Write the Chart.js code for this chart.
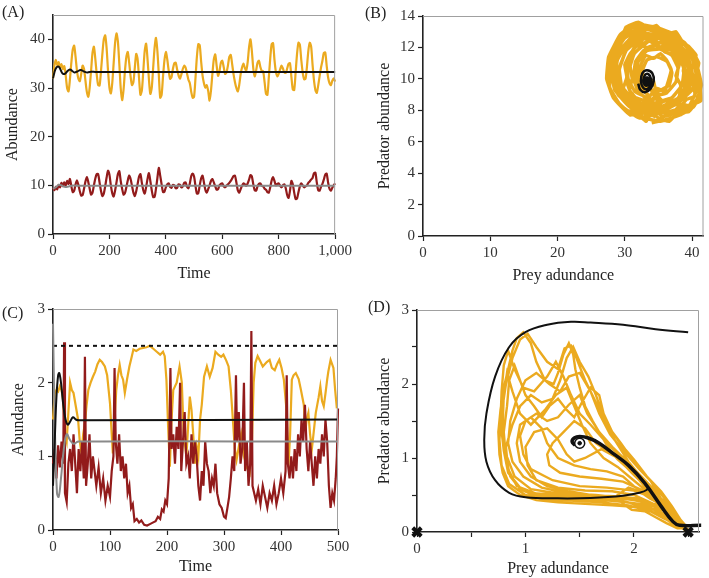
<!DOCTYPE html>
<html><head><meta charset="utf-8">
<script src="https://cdn.jsdelivr.net/npm/chart.js@4.4.1/dist/chart.umd.min.js"></script>
<style>
html,body{margin:0;padding:0;background:#fff;}
#wrap{position:relative;width:709px;height:578px;overflow:hidden;font-family:"Liberation Serif",serif;}
.pnl{position:absolute;}
.lab{position:absolute;font:16px "Liberation Serif",serif;color:#222;line-height:16px;}
</style></head><body>
<div id="wrap">
<canvas id="cA" class="pnl" width="355" height="290" style="left:0;top:0"></canvas>
<canvas id="cB" class="pnl" width="349" height="290" style="left:360px;top:0"></canvas>
<canvas id="cC" class="pnl" width="355" height="288" style="left:0;top:290px"></canvas>
<canvas id="cD" class="pnl" width="349" height="288" style="left:360px;top:290px"></canvas>
<div class="lab" style="left:2px;top:4px">(A)</div>
<div class="lab" style="left:365px;top:5px">(B)</div>
<div class="lab" style="left:2px;top:305px">(C)</div>
<div class="lab" style="left:368px;top:299px">(D)</div>
</div>
<script>
// ---------- DATA ----------
// Panel A : time grid (step 5)
const aTime=Array.from({length:201},(_,i)=>i*5);
// Panel A : stochastic prey (yellow)
const aPrey=[32.0,34.6,35.8,34.7,35.3,34.2,34.9,33.9,34.5,32.6,30.0,29.3,31.8,35.2,37.9,38.7,36.4,33.5,31.9,31.4,32.9,34.6,33.9,31.5,29.2,28.2,30.1,33.6,37.2,38.5,36.0,32.8,30.6,30.5,33.4,37.0,40.0,40.8,38.2,33.6,30.1,28.9,31.0,35.1,39.2,41.2,39.6,35.0,30.0,27.5,29.6,33.5,36.4,37.4,35.2,32.4,30.6,31.2,34.2,37.0,35.9,32.0,28.6,29.5,33.4,37.6,39.1,36.0,31.8,28.8,30.0,34.1,38.2,40.3,37.6,32.8,28.0,28.6,32.4,35.7,37.4,35.9,33.6,31.9,32.2,33.9,35.1,35.2,33.8,32.6,31.9,32.8,33.9,34.6,34.2,33.0,31.7,31.0,29.2,28.0,28.2,32.0,36.4,39.0,38.8,35.5,32.6,31.0,30.1,30.6,29.4,27.4,29.5,32.9,35.9,36.9,34.6,32.5,33.4,35.2,35.6,34.3,32.9,33.2,34.6,36.4,36.8,34.9,32.8,31.2,30.0,29.3,30.6,32.8,34.2,35.0,34.1,33.6,35.3,38.4,40.0,37.5,34.0,32.4,33.6,35.2,35.6,34.3,33.5,33.4,31.2,28.8,28.6,32.2,36.1,39.0,39.2,35.8,33.3,32.4,32.9,33.8,34.6,34.0,33.2,33.1,34.0,35.0,35.1,32.3,29.7,29.6,33.2,37.0,39.3,38.9,35.8,33.2,31.8,31.9,34.3,37.6,39.3,38.5,34.8,31.6,29.6,29.0,30.5,32.4,34.2,35.6,37.2,37.3,34.6,32.2,31.0,30.6,31.5,32.0,31.3];
// Panel A : stochastic predator (dark red)
const aPred=[9.5,9.0,9.7,9.2,10.1,9.6,10.5,9.8,10.6,10.0,10.9,10.3,11.3,9.8,8.6,8.9,10.2,11.0,10.1,8.8,7.9,8.0,9.3,10.8,11.7,10.7,9.3,8.1,8.5,10.0,11.4,12.3,12.3,10.6,8.9,7.8,8.3,9.8,11.6,13.0,12.2,10.0,8.4,7.7,8.9,10.6,12.3,12.9,10.9,9.3,8.1,8.4,9.6,11.0,12.0,11.3,9.9,8.5,7.8,8.8,10.3,11.8,12.3,10.5,9.0,8.3,9.6,11.3,12.5,10.9,9.0,7.6,7.6,9.3,11.5,13.6,12.0,10.2,8.6,8.7,9.6,10.2,10.4,9.7,9.5,10.1,10.0,9.4,9.5,10.2,10.1,9.6,9.8,10.5,10.6,9.7,9.4,10.4,11.9,12.4,11.8,9.9,8.3,8.4,10.0,11.4,12.0,10.6,9.1,8.5,9.2,10.0,10.9,11.3,10.6,9.8,9.1,9.2,10.0,10.3,10.4,9.8,9.6,9.9,10.2,10.5,10.9,11.4,11.9,12.0,10.6,9.0,8.5,9.2,9.9,10.4,10.2,9.9,10.4,11.2,12.1,11.8,10.2,9.0,8.9,9.8,10.3,10.4,9.9,9.8,9.3,9.1,8.6,8.5,9.6,11.0,11.7,10.9,10.0,10.3,10.4,9.9,9.6,10.0,10.2,9.4,8.0,7.4,8.9,10.9,10.2,8.5,7.2,7.3,8.6,9.8,10.4,10.0,9.6,9.8,10.0,10.5,10.8,11.2,11.5,12.5,12.6,10.6,9.0,8.9,9.7,10.3,11.2,12.2,12.4,10.6,9.3,8.9,9.5,10.0,10.4];
// Panel A : deterministic prey (black) and predator (grey)
const aDetPreyT=[0,5,10,16,22,28,34,42,50,60,68,76,86,98,110,122,135,150,1000];
const aDetPreyV=[32,33.2,34,34.4,34.3,33.6,33,32.9,33.4,33.8,33.5,33.2,33.4,33.7,33.4,33.2,33.35,33.3,33.3];
const aDetPredT=[0,10,20,30,40,55,70,90,1000];
const aDetPredV=[9.3,9.6,10.1,10,9.7,9.75,9.95,9.9,9.9];

// Panel B : phase plane (prey, predator) stochastic
const bPrey=[34,37,39.8,41.2,41,39.8,37.5,34.5,31.5,29.3,27.6,27.3,28.3,30.8, 34.5,37.2,39.2,39.9,39.2,37.2,34.8,32.2,30.2,29.2,29.6,31.3,33, 34.5,36.2,37.6,37.9,37,35.2,33.3,32,31.6,32.3,33.4, 35.5,38.5,40.6,41.4,40.5,38.9,36.3,33.2,30.6,28.7,27.5,27.8,29.4,32.2, 34.8,37.8,39.6,39.4,38.2,35.7,32.8,30.6,28.9,28.6,29.9,32.4, 35.8,38.5,40.5,40.8,39.6,37.6,35,32.4,30,28.5,28.2,29,31,33.5, 36.5,39.5,41.3,41.1,40.1,38.2,35.2,33,31.4,30.4,30.3,31.2,33.4, 35,36.6,37,36.3,34.8,33.3,32.6,33,34, 35.6,38.3,39.8,39.6,38,35.5,32.5,30.3,29,28,28.5,30.5,33, 35.3,38.2,40.2,41.1,40.7,39.5,38,36,33.8,31.6,29.7,28.6,28.8,29.8,31.6,33.8, 36.2,38.7,39.3,38.6,37,34.5,32.8,31.6,31.3,32,33.6, 35.8,38,40,40.6,40,38.5,36.5,34.2,32,30.2,29.3,28.4,27.9,28.6,30.4,32.6,
 33.5,35.2,36.8,38.4,39.6,40.6,40.9,40.2,40.6,39.4,38.1,36.9,35.3,33.9,32.3,30.9,29.6,28.8,28.2,28.7,29.3,30.6,32.0,
 34.6,36.0,37.4,38.6,39.1,38.7,38.9,37.8,36.6,35.1,33.7,32.4,31.4,30.8,31.1,30.7,31.6,33.0,
 35.0,36.6,38.0,39.5,40.8,41.3,40.6,41.0,40.0,38.8,37.6,36.0,34.7,33.0,31.6,30.4,29.2,28.4,27.9,27.4,28.0,29.0,30.3,31.8,33.2,
 34.8,35.9,36.5,36.9,36.2,35.3,34.3,33.1,32.4,32.1,32.6,33.6,
 36.0,37.8,39.2,40.4,40.2,39.8,39.2,37.8,36.4,35.0,33.6,32.0,30.5,29.8,29.1,29.4,30.0,31.3,32.9,34.4,
 35.2,36.8,38.1,38.3,37.6,38.1,37.4,36.0,34.8,33.3,32.0,30.8,30.0,30.3,29.8,30.8,32.2,33.7,
 34.8,37.0,38.5,38.8,38,36,33.6,31.5,30.4,30.5,31.5,33.5,34.5,34.2];
const bPred=[7.2,7.5,8.2,9,10.4,11.7,12.8,13.3,13.5,12.8,11.4,10,8.8,7.7, 8,8.3,9,10.1,11.3,12.2,12.6,12.5,11.8,10.6,9.4,8.5,8.1, 8.9,9.1,9.8,10.7,11.5,11.9,11.8,11.1,10.2,9.4,9, 7.6,8,8.6,9.6,11.2,12.3,13,13.4,13.2,12.2,10.8,9.4,8.3,7.5, 7.9,8.4,9.4,10.7,11.9,12.7,12.9,12.4,11.2,9.8,8.7,8, 8.3,8.9,9.5,10.6,12,12.7,13.2,13.1,12.6,11.6,10.3,9,8.2,7.7, 7.9,8.3,8.6,10,11.5,12.5,12.9,12.6,12,11,9.8,8.8,8.2, 9.2,9.6,10.4,11.1,11.4,11.2,10.5,9.7,9.3, 8.6,8.7,9.7,11,12.1,12.9,13.2,12.9,12,10.7,9.3,8.3,7.5, 7.3,7.7,8.2,8.9,9.8,10.7,11.6,12.4,12.8,12.7,12,11,10,9.1,8.3,7.9, 8.2,8.9,10,11,11.8,12.1,11.8,11.1,10,9.2,8.6, 8,8.5,9.3,10.3,11.3,12,12.7,13.1,13.6,13.3,12.3,11.2,10.2,9.3,8.6,8.2,
 7.6,7.9,7.7,8.4,8.3,9.2,10.1,10.9,11.5,12.1,12.3,12.9,12.7,13.2,13.0,12.6,12.0,11.1,10.4,9.6,8.9,8.6,7.9,
 8.3,8.6,8.4,9.1,9.9,10.5,11.2,11.6,12.2,12.0,12.4,12.0,11.6,10.8,10.0,9.3,8.8,8.6,
 7.5,7.3,7.9,7.9,8.6,9.4,10.2,11.0,11.8,12.2,13.0,12.8,13.4,13.1,13.5,12.9,12.4,11.5,10.7,9.9,9.1,8.5,8.0,7.8,7.3,
 9.4,9.2,9.9,10.6,11.2,11.6,11.3,11.5,10.9,10.2,9.5,9.5,
 7.8,8.0,8.7,8.9,9.9,10.8,11.6,12.0,12.4,12.3,12.8,12.6,12.2,11.4,10.6,9.7,9.0,8.3,8.1,7.6,
 8.1,8.2,8.9,9.6,10.2,10.9,11.5,11.7,12.2,12.0,12.2,11.6,10.9,10.1,9.4,8.9,8.5,8.3,
 8.5,8.8,9.6,10.6,11.5,12.2,12.4,12,11,10,9.2,8.8,9.4,10];
// Panel B : deterministic spiral
const bSpPrey=[32,32.3,33,33.8,34.3,34.1,33.3,32.6,32.4,32.7,33.3,33.8,33.9,33.5,33,32.8,33,33.4,33.55,33.3,33.15,33.3];
const bSpPred=[9.7,9.3,9.15,9.35,9.85,10.35,10.55,10.35,9.85,9.45,9.35,9.6,10,10.3,10.25,9.9,9.6,9.6,9.85,10,9.85,9.8];
const bEq=[33.3,9.85];

// Panel C : stochastic prey (yellow)
const cPreyT=[0,3,6,9,12,15,18,21,24,27,30,33,36,40,44,47,50,53,56,59,62,66,70,74,78,82,86,91,95,100,103,105,108,111,114,117,120,123,126,130,134,138,141,146,152,158,164,170,176,182,188,193,196,199,202,205,208,211,214,217,222,226,229,231,234,237,240,243,246,249,252,255,258,261,265,270,275,280,285,290,295,299,304,308,312,316,319,322,326,330,335,340,345,349,352,355,359,363,368,375,380,384,389,393,397,401,405,410,413,416,419,422,426,431,435,440,443,445,448,451,454,457,461,466,469,472,475,478,481,483,487,492,495,498,500];
const cPreyV=[1.5,1.85,1.9,1.88,1.95,1.9,1.75,1.3,1.2,1.6,2.0,1.9,1.86,1.68,1.5,1.2,1.04,1.3,1.45,1.7,1.9,2.0,2.08,2.15,2.25,2.31,2.28,2.22,2.1,1.72,1.3,1.04,1.5,1.9,2.1,2.24,2.1,2.04,1.86,2.05,2.22,2.35,2.45,2.43,2.46,2.47,2.48,2.5,2.46,2.42,2.38,2.42,2.36,2.04,1.4,0.86,1.5,1.9,1.95,2.0,2.22,2.0,1.36,1.2,1.0,1.4,1.81,1.63,1.3,0.9,1.13,1.0,1.5,1.7,2.08,2.22,2.08,2.2,2.42,2.38,2.35,2.38,2.3,2.22,1.9,1.45,1.1,0.95,1.13,1.3,1.0,0.85,0.77,1.2,2.0,2.27,2.36,2.3,2.22,2.28,2.31,2.2,2.17,2.25,2.31,2.2,2.04,1.6,0.86,1.3,2.04,2.1,2.13,2.05,1.9,1.7,1.36,1.5,1.59,1.3,1.09,1.3,1.59,1.8,1.95,1.75,1.68,1.85,2.04,2.15,2.31,2.2,1.9,1.65];
// Panel C : stochastic predator (dark red)
const cPredT=[0,3,6,9,12,15,18,19.5,21,24,27,30,33,36,39,42,45,48,51,54,56,58,61,64,67,70,73,76,80,84,88,92,96,100,103,106,108,110,113,116,119,122,125,128,131,134,137,140,143,147,151,155,160,165,170,175,180,184,188,191,194,197,200,203,206,208,211,214,217,220,223,225,228,231,234,237,240,243,246,249,252,255,258,261,264,267,270,273,276,279,282,285,288,292,296,300,303,306,309,312,315,318,321,323,326,329,332,335,337,340,343,346,348,350,353,356,360,364,368,372,376,380,384,388,392,396,400,404,408,410,412,415,418,421,424,427,430,433,436,439,442,445,448,451,454,457,460,463,466,469,472,475,478,481,484,487,490,493,496,498,500];
const cPredV=[0.9,1.1,0.7,1.15,0.85,1.2,0.9,2.55,0.5,0.38,0.9,1.1,0.8,1.3,0.9,0.5,1.1,0.8,1.2,0.7,2.35,0.6,0.9,1.3,0.7,1.0,0.8,0.6,0.85,0.5,0.7,0.4,0.6,0.45,0.8,1.0,2.2,1.2,0.9,1.3,0.8,1.0,0.7,0.9,0.5,0.6,0.3,0.35,0.12,0.15,0.1,0.13,0.07,0.06,0.08,0.1,0.12,0.18,0.15,0.28,0.25,0.4,0.35,0.7,2.2,1.1,1.3,0.9,1.4,1.1,2.0,0.8,1.2,1.6,0.9,1.0,0.7,1.3,0.9,1.2,1.0,0.6,0.4,0.8,0.6,1.2,0.9,0.8,0.5,0.7,0.6,0.9,0.5,0.35,0.3,0.18,0.16,0.3,0.45,0.7,1.0,0.8,2.1,1.2,1.6,0.9,1.1,2.0,0.8,1.2,0.6,0.9,2.7,0.6,0.5,0.4,0.55,0.35,0.6,0.45,0.3,0.5,0.4,0.6,0.35,0.5,0.7,0.5,0.8,2.1,0.9,0.7,1.0,0.7,1.1,0.8,1.3,1.0,1.5,1.2,1.7,1.1,0.8,1.2,0.9,0.6,1.0,0.7,1.1,0.9,1.3,1.0,1.5,1.2,0.6,0.3,0.5,0.4,0.7,1.0,1.65];
// Panel C : deterministic prey (black), predator (grey), carrying capacity
const cDetPreyT=[0,3,6,9,11,14,18,22,26,30,35,40,45,500];
const cDetPreyV=[0.6,1.2,1.8,2.1,2.13,2.0,1.7,1.5,1.43,1.47,1.53,1.5,1.49,1.5];
const cDetPredT=[0,3,7,10,14,19,24,30,36,45,500];
const cDetPredV=[2.8,1.5,0.5,0.45,0.7,1.1,1.3,1.22,1.17,1.2,1.2];
const cK=2.5;

// Panel D : phase plane stochastic (prey, predator)
const dPrey=[2.5,2.42,2.35,2.25,2.15,2.0,1.88,1.75,1.65,1.55,1.47,1.42,1.36,1.3,1.2,1.1,1.02,0.95,0.88,0.82,0.78,0.76,0.78,0.85,1.0,1.2,1.45,1.7,1.95,2.15,2.3,2.45,
 2.4,2.3,2.18,2.05,1.9,1.78,1.68,1.6,1.5,1.4,1.32,1.22,1.1,1.0,0.92,0.86,0.84,0.88,0.98,1.15,1.4,1.65,1.9,2.1,2.25,
 2.32,2.2,2.05,1.92,1.8,1.68,1.57,1.5,1.4,1.3,1.2,1.1,1.0,0.95,0.98,1.05,1.25,1.5,1.75,2.0,2.2,2.38,2.48,
 2.3,2.15,2.0,1.85,1.72,1.6,1.5,1.42,1.35,1.28,1.2,1.08,0.98,0.9,0.84,0.8,0.78,0.77,0.8,0.84,0.95,1.1,1.35,1.6,1.85,2.05,2.25,
 2.1,1.95,1.8,1.65,1.55,1.45,1.35,1.25,1.2,1.22,1.32,1.5,1.7,1.9,2.1,2.25,
 2.35,2.22,2.08,1.95,1.82,1.72,1.65,1.58,1.5,1.44,1.38,1.32,1.25,1.15,1.05,0.95,0.88,0.82,0.84,0.92,1.1,1.35,1.6,1.85,2.05,2.3,2.45,
 2.38,2.26,2.12,1.98,1.85,1.7,1.55,1.45,1.38,1.3,1.2,1.08,1.0,1.02,1.1,1.3,1.55,1.8,2.0,2.18,
 2.28,2.12,1.98,1.85,1.72,1.6,1.52,1.45,1.38,1.28,1.18,1.05,0.95,0.88,0.83,0.8,0.79,0.82,0.9,1.05,1.3,1.6,1.85,2.05,2.2,2.35,2.5,
 2.44,2.38,2.3,2.24,2.15,2.05,1.95,1.85,1.78,1.7,1.62,1.55,1.5,1.46,1.44,1.4,1.35,1.3,1.26,1.18,1.1,1.05,0.98,0.92,0.88,0.84,0.8,0.77,0.75,0.76,0.79,0.84,0.95,1.1,1.3,1.55,1.8,2.0,2.15,2.28,2.4,2.48,
 2.35,2.25,2.1,1.95,1.8,1.6,1.4,1.2,1.05,0.95,0.92,0.95,1.05,1.15,1.2,1.3,1.45,1.6,1.75,1.9,2.0,2.12,2.2,2.3,2.42,
 2.45,2.35,2.25,2.12,2.0,1.9,1.8,1.72,1.68,1.6,1.52,1.45,1.38,1.3,1.22,1.15,1.08,1.0,0.95,0.9,0.85,0.83,0.8,0.82,0.86,0.95,1.1,1.3,1.55,1.8,2.05,2.2,2.35,2.46,
 2.4,2.3,2.2,2.1,1.98,1.9,1.85,1.95,2.05,2.15,2.28,2.38,2.45];
const dPred=[0.02,0.12,0.3,0.45,0.7,0.95,1.2,1.45,1.75,2.05,2.35,2.52,2.48,2.2,2.3,2.5,2.68,2.6,2.35,2.0,1.6,1.25,0.9,0.65,0.5,0.44,0.42,0.4,0.36,0.28,0.18,0.06,
 0.2,0.42,0.65,0.85,1.1,1.32,1.6,1.9,2.15,2.1,1.9,2.0,2.15,2.05,1.8,1.5,1.2,0.95,0.75,0.6,0.52,0.5,0.46,0.4,0.3,
 0.28,0.55,0.78,0.98,1.15,1.35,1.6,1.85,1.72,1.55,1.5,1.6,1.5,1.3,1.05,0.85,0.7,0.62,0.6,0.56,0.45,0.25,0.08,
 0.38,0.6,0.82,1.05,1.25,1.45,1.6,1.85,2.1,2.3,2.1,1.9,1.95,2.2,2.45,2.25,1.9,1.5,1.1,0.8,0.6,0.5,0.47,0.45,0.42,0.38,0.26,
 0.7,0.92,1.05,1.2,1.4,1.5,1.35,1.2,1.05,0.9,0.8,0.75,0.72,0.68,0.55,0.4,
 0.3,0.5,0.72,0.95,1.25,1.55,1.85,2.1,2.3,2.5,2.35,2.05,1.8,1.75,1.85,1.7,1.45,1.15,0.85,0.62,0.52,0.5,0.48,0.46,0.42,0.2,0.05,
 0.22,0.4,0.6,0.8,1.0,1.12,1.0,0.95,1.05,1.25,1.4,1.35,1.15,0.9,0.7,0.6,0.56,0.55,0.5,0.38,
 0.32,0.55,0.72,0.88,1.0,1.2,1.45,1.7,1.95,1.85,1.65,1.45,1.6,1.9,2.15,1.85,1.45,1.05,0.75,0.58,0.52,0.5,0.48,0.45,0.36,0.22,0.03,
 0.1,0.2,0.28,0.4,0.52,0.7,0.85,0.98,1.1,1.3,1.5,1.7,1.95,2.2,2.4,2.55,2.4,2.15,2.0,2.05,2.3,2.55,2.7,2.62,2.45,2.2,1.95,1.65,1.35,1.05,0.8,0.62,0.5,0.43,0.4,0.38,0.36,0.34,0.28,0.18,0.1,0.03,
 0.12,0.22,0.32,0.4,0.45,0.5,0.55,0.62,0.75,0.95,1.2,1.45,1.55,1.4,1.2,1.0,0.9,0.85,0.82,0.75,0.62,0.5,0.42,0.3,0.15,
 0.12,0.35,0.55,0.75,0.98,1.15,1.35,1.6,1.85,1.95,1.75,1.55,1.65,1.8,1.7,1.55,1.7,1.85,2.05,2.25,2.05,1.7,1.35,1.0,0.75,0.58,0.48,0.45,0.44,0.42,0.38,0.3,0.2,0.06,
 0.05,0.12,0.2,0.28,0.3,0.38,0.5,0.6,0.55,0.45,0.35,0.22,0.1];
// Panel D : deterministic trajectories and equilibria
const dThinPrey=[2.5,2.2,1.9,1.6,1.42,1.2,1.0,0.85,0.72,0.64,0.62,0.64,0.72,0.85,1.0,1.3,1.6,1.9,2.05,2.12,2.13];
const dThinPred=[2.7,2.74,2.8,2.83,2.84,2.8,2.7,2.5,2.1,1.6,1.25,0.95,0.7,0.53,0.47,0.455,0.46,0.49,0.53,0.57,0.62];
const dThickPrey=[2.62,2.42,2.36,2.25,2.1,1.95,1.8,1.68,1.58,1.5,1.45,1.43,1.46];
const dThickPred=[0.09,0.09,0.14,0.35,0.66,0.9,1.07,1.2,1.27,1.29,1.27,1.22,1.17];
const dEq=[1.5,1.2];
const dTrivPrey=[0,2.5];
const dTrivPred=[0,0];

// ---------- HELPERS ----------
const YEL='#EBAA1F', RED='#921B1B', GRY='#8a8a8a', BLK='#111';
const FONT='"Liberation Serif", "Times New Roman", serif';
const pts=(xs,ys)=>xs.map((x,i)=>({x:x,y:ys[i]}));
// 'order': higher values are drawn first (underneath)
const line=(data,color,w,order,extra)=>Object.assign({data:data,borderColor:color,backgroundColor:color,borderWidth:w,showLine:true,pointRadius:0,tension:0,fill:false,clip:6,order:order},extra||{});

const frame={id:'frame',afterDatasetsDraw(ch){
  const a=ch.chartArea,c=ch.ctx;c.save();c.strokeStyle='#a0a0a0';c.lineWidth=1;
  c.beginPath();c.moveTo(a.left,a.top+0.5);c.lineTo(a.right-0.5,a.top+0.5);c.lineTo(a.right-0.5,a.bottom);c.stroke();c.restore();}};

function axis(o){
  return {type:'linear',min:o.min,max:o.max,
    ticks:{stepSize:o.step,includeBounds:false,color:'#333',font:{family:FONT,size:15},padding:o.tpad||3,maxRotation:0,autoSkip:false,
      callback:o.cb||((v)=>v.toLocaleString('en-US'))},
    grid:{display:true,drawOnChartArea:false,drawTicks:true,tickLength:5,color:'#222',tickWidth:1.2},
    border:{display:true,color:'#222',width:1.6},
    title:{display:true,text:o.title,color:'#222',font:{family:FONT,size:16},padding:o.titlePad},
    afterFit:o.fit};
}
function make(id,datasets,xo,yo,pad){
  return new Chart(document.getElementById(id),{type:'scatter',data:{datasets:datasets},
    options:{responsive:false,animation:false,devicePixelRatio:1,
      layout:{padding:{top:pad.top,right:pad.right,left:0,bottom:0}},
      plugins:{legend:{display:false},tooltip:{enabled:false}},
      scales:{x:axis(xo),y:axis(yo)}},plugins:[frame]});
}

// Panel A
make('cA',[
  line(pts(aTime,aPrey),YEL,2.2,10,{tension:0.25}),
  line(pts(aTime,aPred),RED,2.2,9,{tension:0.25}),
  line(pts(aDetPredT,aDetPredV),GRY,2,2,{tension:0.4}),
  line(pts(aDetPreyT,aDetPreyV),BLK,2,1,{tension:0.4})
],{min:0,max:1000,step:200,title:'Time',titlePad:{top:0,bottom:7},fit:s=>{s.height=56;}},
 {min:0,max:45,step:10,title:'Abundance',titlePad:{top:3,bottom:0},fit:s=>{s.width=53;}},{top:15,right:17});

// Panel B
make('cB',[
  line(pts(bPrey,bPred),YEL,3.4,10,{tension:0.1}),
  line(pts(bSpPrey,bSpPred),BLK,2.5,2,{tension:0.4}),
  {data:[{x:bEq[0],y:bEq[1]}],pointRadius:4.5,backgroundColor:BLK,borderColor:BLK,showLine:false,order:1}
],{min:0,max:41.7,step:10,title:'Prey adundance',titlePad:{top:0,bottom:5},fit:s=>{s.height=54;}},
 {min:0,max:14,step:2,title:'Predator abundance',titlePad:{top:15,bottom:0},fit:s=>{s.width=63;}},{top:16,right:4});

// Panel C
make('cC',[
  line(pts(cPreyT,cPreyV),YEL,2.2,10),
  line(pts(cPredT,cPredV),RED,2.2,9),
  line([{x:0,y:cK},{x:500,y:cK}],BLK,2,3,{borderDash:[4,4]}),
  line(pts(cDetPredT,cDetPredV),GRY,2,2,{tension:0.4}),
  line(pts(cDetPreyT,cDetPreyV),BLK,2,1,{tension:0.4})
],{min:0,max:500,step:100,title:'Time',titlePad:{top:0,bottom:2},fit:s=>{s.height=48;}},
 {min:0,max:3,step:1,title:'Abundance',titlePad:{top:9,bottom:0},fit:s=>{s.width=53;}},{top:19,right:17});

// Panel D
make('cD',[
  line(pts(dPrey,dPred),YEL,2.4,10),
  line(pts(dThinPrey,dThinPred),BLK,2,5,{tension:0.4}),
  line(pts(dThickPrey,dThickPred),BLK,3.5,4,{tension:0.4}),
  {data:[{x:dEq[0],y:dEq[1]}],pointRadius:5,backgroundColor:'#fff',borderColor:BLK,borderWidth:1.5,showLine:false,order:2},
  {data:[{x:dEq[0],y:dEq[1]}],pointRadius:1.8,backgroundColor:BLK,borderColor:BLK,showLine:false,order:1},
  {data:pts(dTrivPrey,dTrivPred),pointStyle:'crossRot',pointRadius:6,borderWidth:4,borderColor:BLK,backgroundColor:BLK,showLine:false,clip:false,order:0}
],{min:0,max:2.6,step:0.5,title:'Prey adundance',titlePad:{top:0,bottom:0},cb:v=>Number.isInteger(v)?v:'',fit:s=>{s.height=46;}},
 {min:0,max:3,step:0.5,title:'Predator abundance',titlePad:{top:15,bottom:0},cb:v=>Number.isInteger(v)?v:'',fit:s=>{s.width=57;}},{top:20,right:8});
</script>
</body></html>
